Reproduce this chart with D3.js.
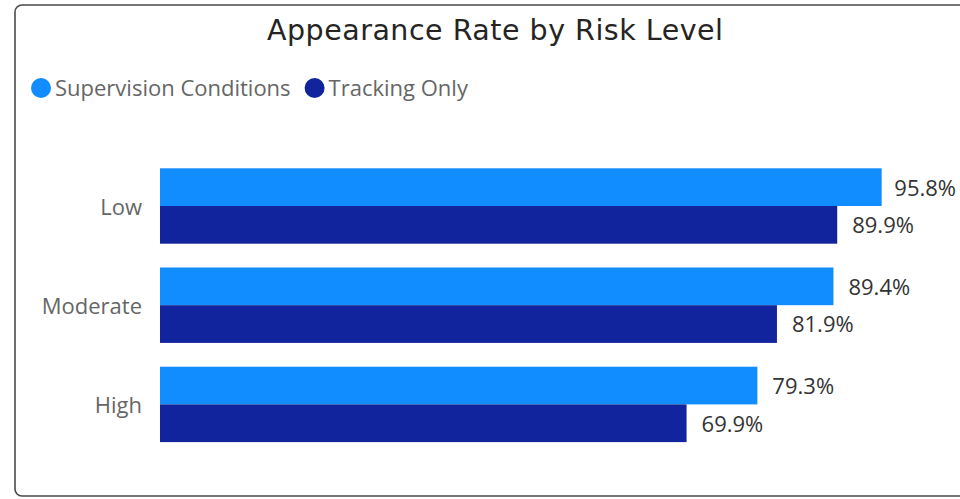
<!DOCTYPE html>
<html>
<head>
<meta charset="utf-8">
<script src="https://cdn.jsdelivr.net/npm/d3@7"></script>
<style>
  html, body { margin: 0; padding: 0; background: #fff; }
  svg { display: block; }
</style>
</head>
<body>
<svg id="chart" width="960" height="499"></svg>
<script>
// Appearance rate (%) per risk level, split by release type
const categories = ["Low", "Moderate", "High"];
const seriesNames = ["Supervision Conditions", "Tracking Only"];
const supervisionValues = [95.8, 89.4, 79.3];
const trackingValues = [89.9, 81.9, 69.9];
const seriesColors = ["#118DFF", "#12239E"];
const titleText = "Appearance Rate by Risk Level";

const rows = categories.map((c, i) => ({
  category: c,
  values: [
    { series: seriesNames[0], value: supervisionValues[i] },
    { series: seriesNames[1], value: trackingValues[i] }
  ]
}));

const svg = d3.select("#chart");
const uiFont = "'Open Sans', 'Noto Sans', sans-serif";
const labelSize = 22;

// Card frame
svg.append("rect")
  .attr("x", 15).attr("y", 5)
  .attr("width", 980).attr("height", 491)
  .attr("rx", 7).attr("ry", 7)
  .attr("fill", "#fff")
  .attr("stroke", "#4a4a4a")
  .attr("stroke-width", 1.6);

// Title
svg.append("text")
  .attr("x", 495).attr("y", 40)
  .attr("text-anchor", "middle")
  .attr("font-family", "'DejaVu Sans', sans-serif")
  .attr("font-size", 28.5)
  .attr("textLength", 456)
  .attr("lengthAdjust", "spacing")
  .attr("fill", "#252423")
  .text(titleText);

// Legend
const color = d3.scaleOrdinal().domain(seriesNames).range(seriesColors);
const legend = svg.append("g").attr("transform", "translate(31, 88)");
let lx = 0;
seriesNames.forEach(name => {
  const item = legend.append("g").attr("transform", `translate(${lx},0)`);
  item.append("circle").attr("cx", 10).attr("cy", 0).attr("r", 10).attr("fill", color(name));
  const t = item.append("text")
    .attr("x", 24).attr("y", 0)
    .attr("dy", "0.36em")
    .attr("font-family", uiFont)
    .attr("font-size", labelSize)
    .attr("fill", "#666")
    .text(name);
  lx += 24 + t.node().getComputedTextLength() + 14;
});

// Scales
const x = d3.scaleLinear().domain([0, 100]).range([160, 913.3]);
const y = d3.scaleBand().domain(categories).range([156.4, 454]).paddingInner(0.24).paddingOuter(0.12);
const ySub = d3.scaleBand().domain(seriesNames).range([0, y.bandwidth()]);

// Category axis (labels only)
const yAxis = svg.append("g")
  .attr("transform", "translate(152,0)")
  .call(d3.axisLeft(y).tickSize(0).tickPadding(10));
yAxis.select(".domain").remove();
yAxis.selectAll("text")
  .attr("dy", "0.4em")
  .attr("font-family", uiFont)
  .attr("font-size", labelSize)
  .attr("fill", "#666");

// Bars
const groups = svg.append("g").selectAll("g")
  .data(rows).join("g")
  .attr("transform", d => `translate(0,${y(d.category)})`);

groups.selectAll("rect")
  .data(d => d.values).join("rect")
  .attr("x", x(0))
  .attr("y", d => ySub(d.series))
  .attr("width", d => x(d.value) - x(0))
  .attr("height", ySub.bandwidth())
  .attr("fill", d => color(d.series));

// Value labels, kept inside the card
const fmt = v => d3.format(".1f")(v) + "%";
groups.selectAll("text.value")
  .data(d => d.values).join("text")
  .attr("class", "value")
  .attr("y", d => ySub(d.series) + ySub.bandwidth() / 2)
  .attr("dy", "0.38em")
  .attr("font-family", uiFont)
  .attr("font-size", labelSize)
  .attr("fill", "#333")
  .text(d => fmt(d.value))
  .attr("x", function(d) {
    const w = this.getComputedTextLength();
    return Math.min(x(d.value) + 15, 956 - w);
  });
</script>
</body>
</html>
